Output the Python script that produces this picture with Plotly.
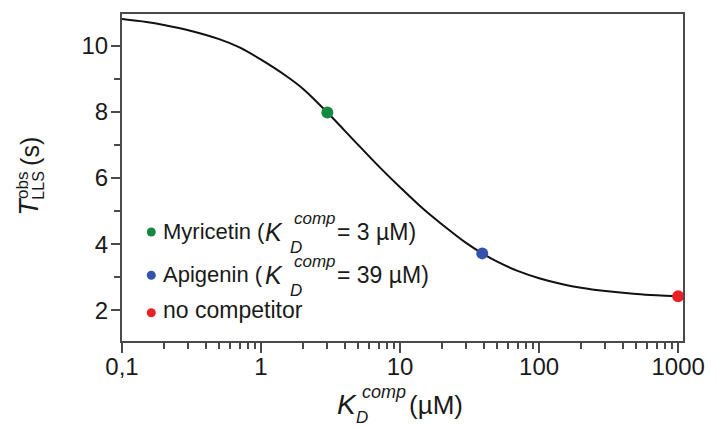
import plotly.graph_objects as go

# Competition curve: observed LLS time vs. competitor dissociation constant
kd_comp = [0.1, 0.15, 0.2, 0.3, 0.5, 0.7, 1, 1.5, 2, 3, 5, 7, 10, 15, 20, 30,
           39, 50, 70, 100, 150, 200, 300, 500, 700, 1000]
t_obs = [10.81, 10.72, 10.63, 10.47, 10.20, 9.95, 9.58, 9.10, 8.70, 7.98, 7.00,
         6.36, 5.72, 5.03, 4.60, 4.03, 3.72, 3.47, 3.19, 2.97, 2.78, 2.68, 2.58,
         2.49, 2.45, 2.42]

# Highlighted compounds
point_names = ["Myricetin", "Apigenin", "no competitor"]
point_kd = [3, 39, 1000]
point_t = [7.98, 3.72, 2.42]
point_colors = ["#15893f", "#3553ad", "#ea1f27"]

x_tickvals = [0.1, 1, 10, 100, 1000]
x_ticktext = ["0,1", "1", "10", "100", "1000"]
y_tickvals = [2, 4, 6, 8, 10]
y_minorvals = [3, 5, 7, 9]

W, H = 717, 429
X0, X1, Y0, Y1 = 122, 691, 13, 341
FONT = "Liberation Sans, Arial, sans-serif"
INK = "#1a1a1a"
AXC = "#4a4a4a"


def px(x):
    return (x - X0) / (X1 - X0)


def py(y):
    return (Y1 - y) / (Y1 - Y0)


fig = go.Figure()

fig.add_trace(go.Scatter(
    x=kd_comp, y=t_obs, mode="lines",
    line=dict(color="#111111", width=2, shape="spline", smoothing=1.0),
    showlegend=False, hoverinfo="skip"))

fig.add_trace(go.Scatter(
    x=point_kd, y=point_t, mode="markers",
    marker=dict(color=point_colors, size=12, line=dict(width=0)),
    cliponaxis=False, showlegend=False, text=point_names))

# Key dots drawn on an overlay axis spanning the plot area
key_y = [231.7, 275.0, 312.7]
fig.add_trace(go.Scatter(
    x=[px(151.7)] * 3, y=[py(v) for v in key_y], mode="markers",
    marker=dict(color=point_colors, size=9, line=dict(width=0)),
    xaxis="x2", yaxis="y2", showlegend=False, hoverinfo="skip"))

x_minor = [m * 10 ** e for e in range(-1, 3) for m in range(2, 10)]

fig.update_layout(
    width=W, height=H,
    margin=dict(l=X0, r=W - X1, t=Y0, b=H - Y1, pad=0),
    paper_bgcolor="white", plot_bgcolor="white",
    font=dict(family=FONT, color=INK),
    xaxis=dict(
        type="log", range=[-1, 3.035],
        tickvals=x_tickvals, ticktext=x_ticktext,
        ticks="outside", ticklen=10, tickwidth=1.5, tickcolor=AXC,
        ticklabelstandoff=-7,
        minor=dict(tickvals=x_minor, ticks="outside", ticklen=6,
                   tickwidth=1.5, tickcolor=AXC, showgrid=False),
        showline=True, linecolor=AXC, linewidth=2, mirror=True,
        showgrid=False, zeroline=False,
        tickfont=dict(size=24, family=FONT, color=INK),
    ),
    yaxis=dict(
        range=[1.07, 10.96],
        tickvals=y_tickvals,
        ticks="outside", ticklen=9, tickwidth=1.5, tickcolor=AXC,
        ticklabelstandoff=-2,
        minor=dict(tickvals=y_minorvals, ticks="outside", ticklen=6,
                   tickwidth=1.5, tickcolor=AXC, showgrid=False),
        showline=True, linecolor=AXC, linewidth=2, mirror=True,
        showgrid=False, zeroline=False,
        tickfont=dict(size=24, family=FONT, color=INK),
    ),
    xaxis2=dict(overlaying="x", range=[0, 1], visible=False),
    yaxis2=dict(overlaying="y", range=[0, 1], visible=False),
)


def note(text, x, y, size, xanchor="left", angle=0):
    fig.add_annotation(
        text=text, x=px(x), y=py(y), xref="paper", yref="paper",
        xanchor=xanchor, yanchor="middle", showarrow=False,
        textangle=angle, font=dict(size=size, family=FONT, color=INK))


# Key text with stacked sub/superscripts
rows = [("Myricetin (", "= 3 \u00b5M)", 239.5), ("Apigenin (", "= 39 \u00b5M)", 282.5)]
for label, value, base in rows:
    note(label, 162, base - 8, 22)
    note("<i>K</i>", 265, base - 8, 25)
    note("<i>comp</i>", 294, base - 21, 17)
    note("<i>D</i>", 290, base + 8, 17)
    note(value, 338, base - 8, 23)
note("no competitor", 162, 318 - 8, 23)

# x-axis title
note("<i>K</i>", 338, 405, 28)
note("<i>comp</i>", 363, 392, 18)
note("<i>D</i>", 357, 418, 17)
note("(\u00b5M)", 411, 405, 26)

# y-axis title (rotated)
note("<i>T</i>", 28, 206, 27, xanchor="center", angle=-90)
note("obs", 21, 185, 17, xanchor="center", angle=-90)
note("LLS", 37, 185, 16, xanchor="center", angle=-90)
note("(s)", 28, 151, 25, xanchor="center", angle=-90)

fig.write_html("out.html")
